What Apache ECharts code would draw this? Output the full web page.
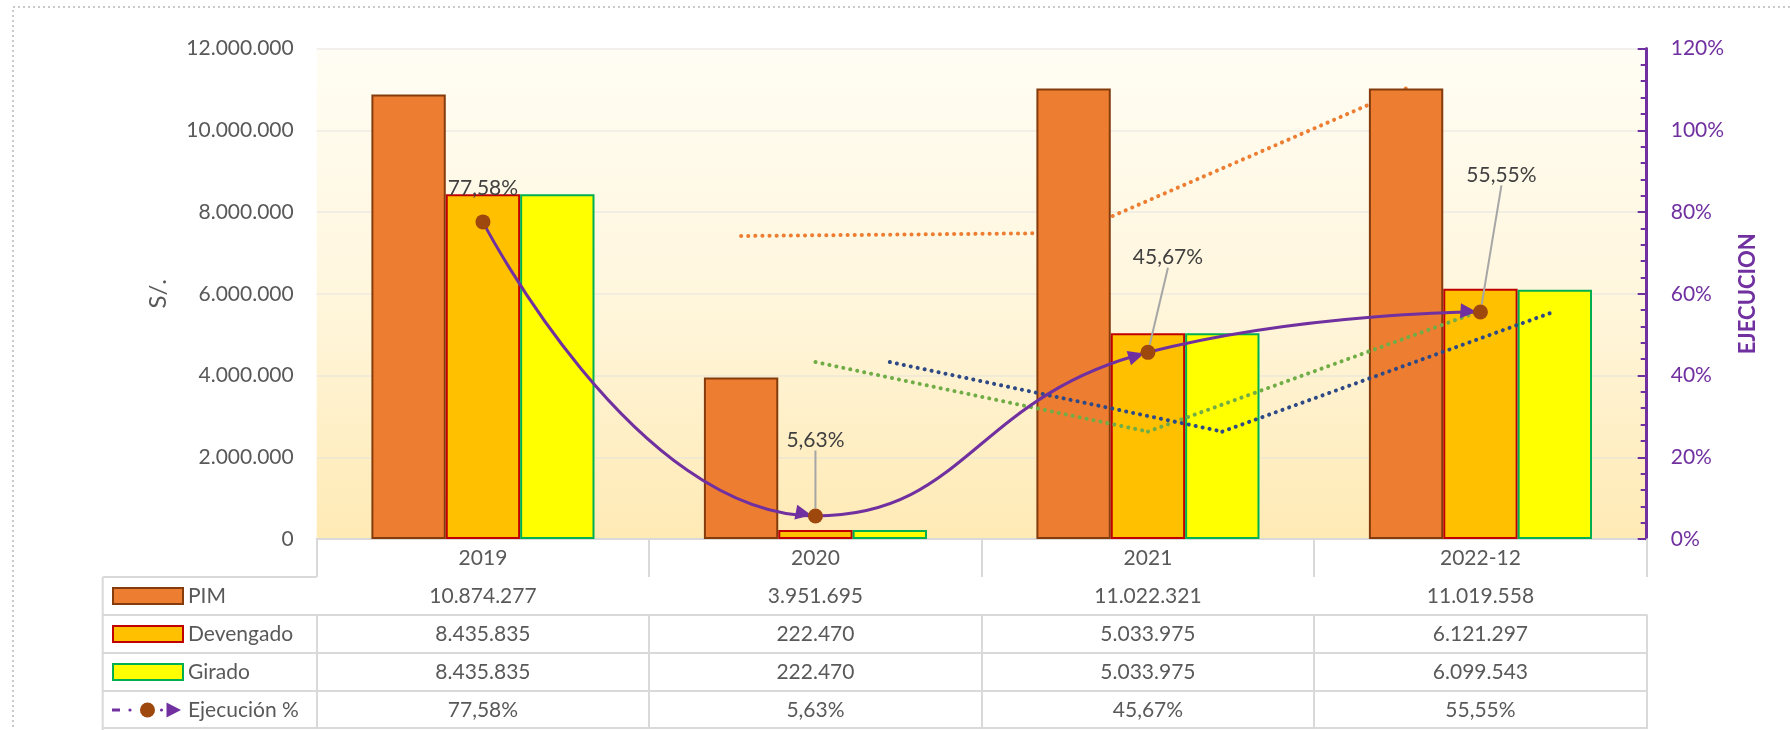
<!DOCTYPE html>
<html><head><meta charset="utf-8">
<script src="https://cdn.jsdelivr.net/npm/echarts@6/dist/echarts.min.js"></script>
<style>html,body{margin:0;padding:0;background:#fff}#c{width:1790px;height:730px}</style>
</head><body><div id="c"></div>
<script>
// ---------- data ----------
const categories = ['2019', '2020', '2021', '2022-12'];
const pim        = [10874277, 3951695, 11022321, 11019558];
const devengado  = [8435835, 222470, 5033975, 6121297];
const girado     = [8435835, 222470, 5033975, 6099543];
const ejecucion  = [0.7758, 0.0563, 0.4567, 0.5555];
const seriesNames = ['PIM', 'Devengado', 'Girado', 'Ejecución %'];
const leftAxisTicks  = { min: 0, max: 12000000, interval: 2000000 };
const rightAxisTicks = { min: 0, max: 1.2, interval: 0.2 };

// ---------- layout / style constants ----------
const GRID = { left: 316.7, right: 143.3, top: 48.5, bottom: 191 };
const ROW_H = 38;
const BAR_CAT_GAP = 0.329;
const FONT = 'Lato, "Noto Sans", sans-serif';
const TXT = '#595959';
const TABLE_LINE = '#D9D9D9';
const PURPLE = '#7030A0', BROWN = '#9E480E';
const LABEL_SHIFT = [[0, -11], [0, -53], [20, -72], [21, -114]];
const ARROW = { back: 4, len: 16, half: 7.5 };

// 2-period moving average trendline (as Excel computes it)
function movingAverage2(arr) {
  return arr.map((v, i) => i === 0 ? null : (arr[i - 1] + v) / 2);
}
const fmtNum = n => String(Math.round(n)).replace(/\B(?=(\d{3})+(?!\d))/g, '.');
const fmtPct = v => (v * 100).toFixed(2).replace('.', ',') + '%';

function trendRender(ma, slot, color) {
  return function (params, api) {
    const i = params.dataIndex;
    if (i < 2 || ma[i - 1] == null) return null;
    const bandW = api.size([1, 0])[0];
    const off = (slot - 1) * bandW * (1 - BAR_CAT_GAP) / 3;
    const a = api.coord([i - 1, ma[i - 1]]);
    const b = api.coord([i, ma[i]]);
    return {
      type: 'line',
      shape: { x1: a[0] + off, y1: a[1], x2: b[0] + off, y2: b[1] },
      style: { stroke: color, lineWidth: 4, lineDash: [0.1, 7], lineCap: 'round' }
    };
  };
}

function arrowRender(params, api) {
  const i = params.dataIndex;
  if (i === 0) return null;
  const cur = api.coord([i, ejecucion[i]]);
  const prev = api.coord([i - 1, ejecucion[i - 1]]);
  let dx, dy;
  if (i < ejecucion.length - 1) {
    const nx = api.coord([i + 1, ejecucion[i + 1]]);
    dx = nx[0] - prev[0]; dy = nx[1] - prev[1];
  } else {
    const pp = api.coord([i - 2, ejecucion[i - 2]]);
    const cp = [prev[0] + (cur[0] - pp[0]) * 0.25, prev[1] + (cur[1] - pp[1]) * 0.25];
    dx = cur[0] - cp[0]; dy = cur[1] - cp[1];
  }
  const len = Math.hypot(dx, dy), ux = dx / len, uy = dy / len, px = -uy, py = ux;
  const tip = [cur[0] - ux * ARROW.back, cur[1] - uy * ARROW.back];
  const base = [tip[0] - ux * ARROW.len, tip[1] - uy * ARROW.len];
  return {
    type: 'polygon',
    shape: { points: [tip, [base[0] + px * ARROW.half, base[1] + py * ARROW.half], [base[0] - px * ARROW.half, base[1] - py * ARROW.half]] },
    style: { fill: PURPLE }
  };
}

const chart = echarts.init(document.getElementById('c'), null, { renderer: 'canvas' });

// table rows as extra category axes
const tableRows = [pim.map(fmtNum), devengado.map(fmtNum), girado.map(fmtNum), ejecucion.map(fmtPct)];
const xAxes = [{
  type: 'category', data: categories, gridIndex: 0, position: 'bottom',
  axisLine: { show: true, lineStyle: { color: TABLE_LINE, width: 2 } },
  axisTick: { show: true, alignWithLabel: false, interval: 0, length: ROW_H, lineStyle: { color: TABLE_LINE, width: 2 } },
  axisLabel: { color: TXT, fontSize: 21, fontFamily: FONT, margin: 8.5, lineHeight: 21, interval: 0 },
  splitLine: { show: false }
}];
tableRows.forEach((row, k) => {
  xAxes.push({
    type: 'category', data: row, gridIndex: 0, position: 'bottom', offset: ROW_H * (k + 1),
    axisLine: { show: true, lineStyle: { color: TABLE_LINE, width: 2 } },
    axisTick: { show: true, alignWithLabel: false, interval: 0, length: ROW_H, lineStyle: { color: TABLE_LINE, width: 2 } },
    axisLabel: { color: TXT, fontSize: 21, fontFamily: FONT, margin: 8.5, lineHeight: 21, interval: 0 },
    splitLine: { show: false }
  });
});
xAxes.push({
  type: 'category', data: categories, gridIndex: 0, position: 'bottom', offset: ROW_H * 5 - 1,
  axisLine: { show: true, lineStyle: { color: TABLE_LINE, width: 2 } },
  axisTick: { show: false }, axisLabel: { show: false }, splitLine: { show: false }
});

// left column table lines + chart border
const tblLeft = 102.7, tblTop = 730 - GRID.bottom + ROW_H, gridLeft = GRID.left;
const tableGraphics = [];
for (let k = 0; k <= 4; k++) {
  const y = tblTop + k * ROW_H - (k === 4 ? 1 : 0);
  tableGraphics.push({ type: 'line', silent: true, shape: { x1: tblLeft, y1: y, x2: gridLeft, y2: y }, style: { stroke: TABLE_LINE, lineWidth: 2 } });
}
tableGraphics.push({ type: 'line', silent: true, shape: { x1: tblLeft, y1: tblTop, x2: tblLeft, y2: 730 }, style: { stroke: TABLE_LINE, lineWidth: 2 } });
tableGraphics.push({ type: 'rect', silent: true, z: -10, shape: { x: 13, y: 7, width: 1800, height: 800 }, style: { fill: 'none', stroke: '#C9C9C9', lineWidth: 2, lineDash: [2, 3] } });

// legend key for the line series (dash-dot line, circle marker, arrow end)
const keyY = tblTop + 3 * ROW_H + ROW_H / 2, keyX = 112;
tableGraphics.push(
  { type: 'line', silent: true, z: 10, shape: { x1: keyX, y1: keyY, x2: keyX + 8, y2: keyY }, style: { stroke: PURPLE, lineWidth: 3 } },
  { type: 'circle', silent: true, z: 10, shape: { cx: keyX + 18, cy: keyY, r: 1.6 }, style: { fill: PURPLE } },
  { type: 'circle', silent: true, z: 10, shape: { cx: keyX + 35.5, cy: keyY, r: 7.5 }, style: { fill: BROWN } },
  { type: 'circle', silent: true, z: 10, shape: { cx: keyX + 49.5, cy: keyY, r: 1.6 }, style: { fill: PURPLE } },
  { type: 'polygon', silent: true, z: 10, shape: { points: [[keyX + 54.5, keyY - 7.5], [keyX + 69, keyY], [keyX + 54.5, keyY + 7.5]] }, style: { fill: PURPLE } }
);

const maPim = movingAverage2(pim), maDev = movingAverage2(devengado), maGir = movingAverage2(girado);

const option = {
  animation: false,
  backgroundColor: '#ffffff',
  textStyle: { fontFamily: FONT },
  graphic: tableGraphics,
  grid: {
    left: GRID.left, right: GRID.right, top: GRID.top, bottom: GRID.bottom, show: true, borderWidth: 0,
    backgroundColor: new echarts.graphic.LinearGradient(0, 0, 0, 1, [
      { offset: 0, color: '#FFFDF4' }, { offset: 0.5, color: '#FFF6DD' }, { offset: 1, color: '#FFEAB5' }])
  },
  legend: {
    orient: 'vertical', left: 112, top: tblTop + ROW_H / 2 - 11, padding: 0,
    itemWidth: 70, itemHeight: 16, itemGap: ROW_H - 22,
    data: seriesNames.map((n, i) => i < 3 ? { name: n, icon: 'rect' } : { name: n, icon: 'none' }),
    textStyle: { color: TXT, fontSize: 21, lineHeight: 22, fontFamily: FONT }
  },
  xAxis: xAxes,
  yAxis: [{
    type: 'value', min: leftAxisTicks.min, max: leftAxisTicks.max, interval: leftAxisTicks.interval,
    position: 'left',
    name: 'S/.', nameLocation: 'middle', nameRotate: 90, nameGap: 146, nameMoveOverlap: false,
    nameTextStyle: { color: TXT, fontSize: 24, fontFamily: FONT },
    axisLine: { show: false }, axisTick: { show: false },
    axisLabel: { color: TXT, fontSize: 21, fontFamily: FONT, margin: 23, formatter: v => fmtNum(v) },
    splitLine: { show: true, lineStyle: { color: 'rgba(225,225,225,0.45)', width: 2 } }
  }, {
    type: 'value', min: rightAxisTicks.min, max: rightAxisTicks.max, interval: rightAxisTicks.interval,
    position: 'right',
    name: 'EJECUCION', nameLocation: 'middle', nameRotate: 90, nameGap: 90, nameMoveOverlap: false,
    nameTextStyle: { color: PURPLE, fontSize: 22, fontWeight: 'bold', fontFamily: FONT },
    axisLine: { show: true, lineStyle: { color: PURPLE, width: 3 } },
    axisTick: { show: true, inside: true, length: 9, lineStyle: { color: PURPLE, width: 2 } },
    minorTick: { show: true, splitNumber: 5, length: 6, lineStyle: { color: PURPLE, width: 2 } },
    axisLabel: { color: PURPLE, fontSize: 21, fontFamily: FONT, margin: 24, formatter: v => Math.round(v * 100) + '%' },
    splitLine: { show: false }
  }],
  series: [
    {
      name: 'trendPIM', type: 'custom', xAxisIndex: 0, yAxisIndex: 0, z: 1, silent: true,
      renderItem: trendRender(maPim, 0, '#ED7D31'), data: maPim.map((v, i) => [i, v])
    },
    {
      name: 'PIM', type: 'bar', xAxisIndex: 0, yAxisIndex: 0, z: 2, data: pim,
      barGap: '0%', barCategoryGap: (BAR_CAT_GAP * 100) + '%',
      itemStyle: { color: '#ED7D31', borderColor: '#843C0C', borderWidth: 2 }
    },
    {
      name: 'Devengado', type: 'bar', xAxisIndex: 0, yAxisIndex: 0, z: 2, data: devengado,
      barGap: '0%', barCategoryGap: (BAR_CAT_GAP * 100) + '%',
      itemStyle: { color: '#FFC000', borderColor: '#C00000', borderWidth: 2 }
    },
    {
      name: 'Girado', type: 'bar', xAxisIndex: 0, yAxisIndex: 0, z: 2, data: girado,
      barGap: '0%', barCategoryGap: (BAR_CAT_GAP * 100) + '%',
      itemStyle: { color: '#FFFF00', borderColor: '#00B050', borderWidth: 2 }
    },
    {
      name: 'trendDev', type: 'custom', xAxisIndex: 0, yAxisIndex: 0, z: 3, silent: true,
      renderItem: trendRender(maDev, 1, '#70AD47'), data: maDev.map((v, i) => [i, v])
    },
    {
      name: 'trendGir', type: 'custom', xAxisIndex: 0, yAxisIndex: 0, z: 3, silent: true,
      renderItem: trendRender(maGir, 2, '#2E4A86'), data: maGir.map((v, i) => [i, v])
    },
    {
      name: 'arrows', type: 'custom', xAxisIndex: 0, yAxisIndex: 1, z: 4, silent: true,
      renderItem: arrowRender, data: ejecucion.map((v, i) => [i, v])
    },
    {
      name: 'Ejecución %', type: 'line', xAxisIndex: 0, yAxisIndex: 1, z: 5,
      smooth: 0.5,
      data: ejecucion.map((v, i) => ({ value: v, labelLine: { show: i > 0 } })),
      symbol: 'circle', symbolSize: 15,
      lineStyle: { color: PURPLE, width: 3 },
      itemStyle: { color: BROWN },
      label: { show: true, position: 'top', distance: 5, color: '#404040', fontSize: 21, fontFamily: FONT, formatter: p => fmtPct(p.value) },
      labelLine: { show: true, lineStyle: { color: '#A6A6A6', width: 2 } },
      labelLayout: p => ({ dx: LABEL_SHIFT[p.dataIndex][0], dy: LABEL_SHIFT[p.dataIndex][1] })
    }
  ]
};
chart.setOption(option);
</script>
</body></html>
